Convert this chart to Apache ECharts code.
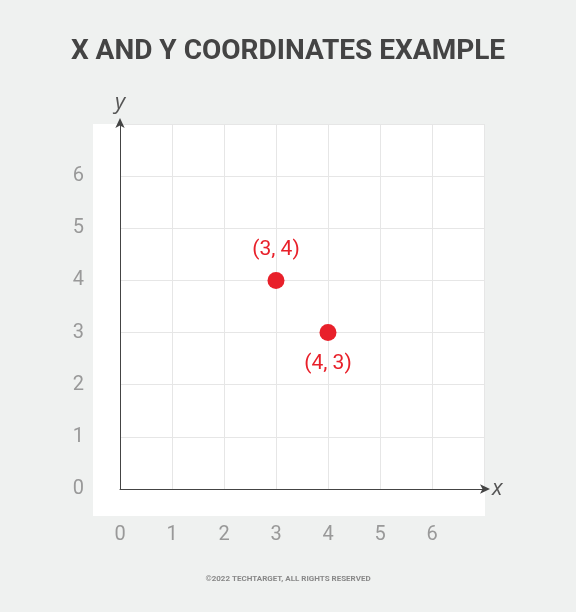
<!DOCTYPE html>
<html><head><meta charset="utf-8">
<script src="https://cdn.jsdelivr.net/npm/echarts@6/dist/echarts.min.js"></script>
<style>html,body{margin:0;background:#eff1f0}#c{width:576px;height:612px}</style>
</head><body><div id="c"></div>
<script>
var ticks = [0, 1, 2, 3, 4, 5, 6];
var points = [[3, 4], [4, 3]];
var pointLabels = ['(3, 4)', '(4, 3)'];
var labelPos = ['top', 'bottom'];

var chart = echarts.init(document.getElementById('c'));
var axisCommon = {
  type: 'value', min: 0, max: 7, interval: 1,
  axisTick: {show: false},
  splitLine: {show: true, lineStyle: {color: '#e6e6e6'}},
  axisLabel: {color: '#999', fontSize: 20, fontFamily: 'Roboto',
    formatter: function (v) { return ticks.indexOf(v) >= 0 ? v : ''; }},
  axisLine: {show: true, lineStyle: {color: '#444', width: 1},
    symbol: ['none', 'arrow'], symbolSize: [7, 10], symbolOffset: [0, 6]},
  nameTextStyle: {color: '#555', fontSize: 22, fontStyle: 'italic', fontFamily: 'Open Sans'}
};
chart.setOption({
  backgroundColor: '#eff1f0',
  title: {text: 'X AND Y COORDINATES EXAMPLE', left: 'center', top: 33,
    textStyle: {color: '#444', fontSize: 28, fontWeight: 'bold', fontFamily: 'Roboto'}},
  graphic: [
    {type: 'rect', z: -10, shape: {x: 93, y: 124, width: 392, height: 392}, style: {fill: '#fff'}},
    {type: 'text', left: 'center', top: 575, style: {text: '©2022 TECHTARGET, ALL RIGHTS RESERVED',
      fill: '#888', fontSize: 8, fontWeight: 'bold', fontFamily: 'Roboto'}}
  ],
  grid: {left: 120, top: 124, width: 364, height: 365},
  xAxis: Object.assign({}, axisCommon, {name: 'x', nameGap: 8,
    axisLabel: Object.assign({}, axisCommon.axisLabel, {margin: 36})}),
  yAxis: Object.assign({}, axisCommon, {name: 'y', nameGap: 10,
    axisLabel: Object.assign({}, axisCommon.axisLabel, {margin: 36})}),
  series: [{
    type: 'scatter', symbolSize: 17,
    itemStyle: {color: '#e8202a', opacity: 1},
    data: points.map(function (p, i) {
      return {value: p, label: {show: true, formatter: pointLabels[i], position: labelPos[i],
        distance: 12, color: '#e8202a', fontSize: 21, fontFamily: 'Roboto'}};
    })
  }]
});
</script></body></html>
